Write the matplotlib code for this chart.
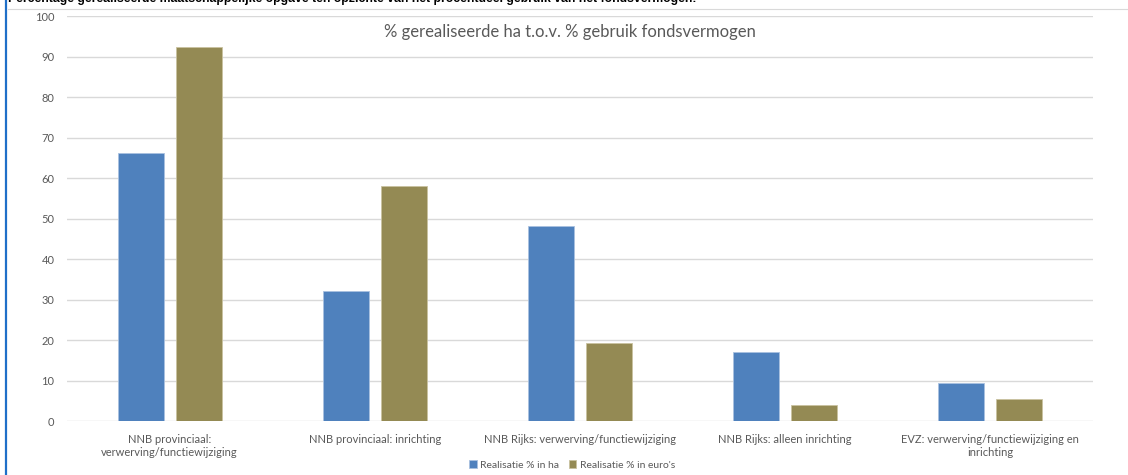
import numpy as np
import matplotlib.pyplot as plt
from matplotlib.lines import Line2D

# Categorieen en waarden
categorieen = [
    "NNB provinciaal:\nverwerving/functiewijziging",
    "NNB provinciaal: inrichting",
    "NNB Rijks: verwerving/functiewijziging",
    "NNB Rijks: alleen inrichting",
    "EVZ: verwerving/functiewijziging en\ninrichting",
]
realisatie_ha = [66.3, 32.1, 48.3, 17.0, 9.4]
realisatie_euro = [92.3, 58.1, 19.2, 4.0, 5.5]
y_ticks = [0, 10, 20, 30, 40, 50, 60, 70, 80, 90, 100]

kop = ("Percentage gerealiseerde maatschappelijke opgave ten opzichte van "
       "het procentueel gebruik van het fondsvermogen:")
titel = "% gerealiseerde ha t.o.v. % gebruik fondsvermogen"

blauw = "#4f81bd"
olijf = "#948a54"
grijs = "#595959"

plt.rcParams["font.family"] = ["Lato", "DejaVu Sans"]

fig = plt.figure(figsize=(11.28, 4.75), dpi=100)
W, H = 1128, 475

# rand en kop
fig.add_artist(Line2D([5.5 / W, 5.5 / W], [0, 1], color="#1f6fc8", lw=1.6))
fig.add_artist(Line2D([8 / W, 1], [1 - 9 / H, 1 - 9 / H], color="#d9d9d9", lw=0.8))
fig.text(8 / W, 1 + 1 / H, kop, fontsize=8.8, fontweight="bold",
         family=["Liberation Sans", "DejaVu Sans"], va="center", ha="left")

ax = fig.add_axes([67 / W, 1 - 421.2 / H, (1093 - 67) / W, (421.2 - 16.2) / H])

x = np.arange(len(categorieen))
breedte = 0.224
ax.bar(x - 0.141, realisatie_ha, breedte, color=blauw, edgecolor="#a9c1e0",
       linewidth=0.6, label="Realisatie % in ha", zorder=3)
ax.bar(x + 0.141, realisatie_euro, breedte, color=olijf, edgecolor="#c9c2a0",
       linewidth=0.6, label="Realisatie % in euro's", zorder=3)

ax.set_xlim(-0.5, len(categorieen) - 0.5)
ax.set_ylim(0, 100)
ax.set_yticks(y_ticks)
ax.grid(axis="y", color="#d9d9d9", lw=1.0, zorder=0)
for s in ax.spines.values():
    s.set_visible(False)
ax.tick_params(axis="both", length=0, colors=grijs, labelsize=8)
ax.tick_params(axis="y", pad=9)
ax.set_xticks(x)
ax.set_xticklabels(categorieen, fontsize=8, color=grijs, linespacing=1.2)
ax.tick_params(axis="x", pad=9)

ax.text(0.49, 0.96, titel, transform=ax.transAxes, ha="center", va="center",
        fontsize=12, color=grijs)

fig.legend(loc="center", bbox_to_anchor=(572 / W, 1 - 465 / H), ncol=2,
           frameon=False, fontsize=7.5, handlelength=0.7, handleheight=0.7,
           columnspacing=1.0, handletextpad=0.3, labelcolor=grijs)

fig.savefig("out.png", dpi=100)
